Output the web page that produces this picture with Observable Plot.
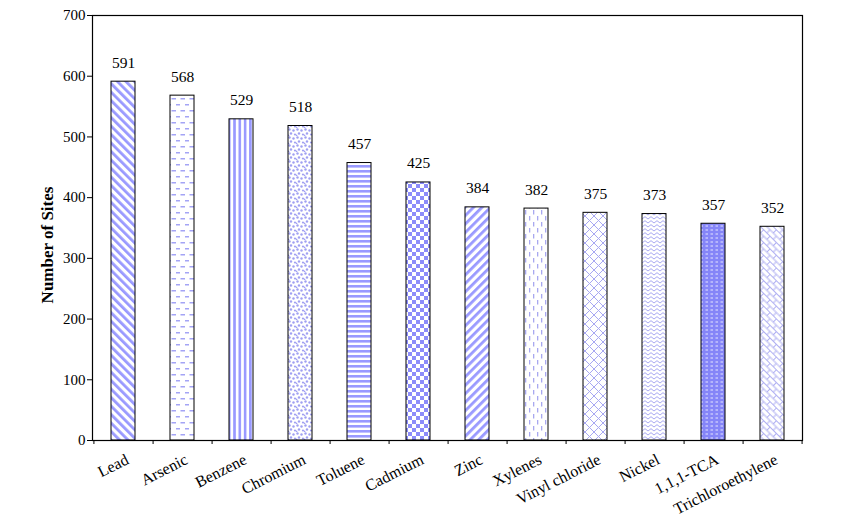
<!DOCTYPE html>
<html>
<head>
<meta charset="utf-8">
<script src="https://cdn.jsdelivr.net/npm/d3@7"></script>
<script src="https://cdn.jsdelivr.net/npm/@observablehq/plot@0.6"></script>
<style>
  html, body { margin: 0; padding: 0; background: #fff; }
</style>
</head>
<body>
<div id="chart"></div>
<script>
const categories = ["Lead", "Arsenic", "Benzene", "Chromium", "Toluene", "Cadmium",
  "Zinc", "Xylenes", "Vinyl chloride", "Nickel", "1,1,1-TCA", "Trichloroethylene"];
const sites = [591, 568, 529, 518, 457, 425, 384, 382, 375, 373, 357, 352];
const yTicks = [0, 100, 200, 300, 400, 500, 600, 700];
const patternIds = ["lead", "arsenic", "benzene", "chromium", "toluene", "cadmium",
  "zinc", "xylenes", "vinyl", "nickel", "tca", "tce"];

const data = categories.map((c, i) => ({category: c, value: sites[i], fill: `url(#pat-${patternIds[i]})`}));

const W = 853, H = 527;
const mL = 92, mR = 51, mT = 15, mB = 87;
const step = (W - mL - mR) / categories.length;
const blue = "#9999ff";

function defs() {
  const ns = "http://www.w3.org/2000/svg";
  const g = document.createElementNS(ns, "defs");
  const P = (id, w, h, inner, tf) =>
    `<pattern id="pat-${id}" patternUnits="userSpaceOnUse" width="${w}" height="${h}"${tf ? ` patternTransform="${tf}"` : ""}><rect width="${w}" height="${h}" fill="#fff"/>${inner}</pattern>`;
  g.innerHTML = [
    P("lead", 6, 6, `<rect x="0" y="0" width="2.8" height="6" fill="${blue}"/>`, "rotate(-45)"),
    P("arsenic", 9, 12, `<rect x="0.5" y="2" width="4.5" height="1.5" fill="#a4a4f5"/><rect x="5" y="8" width="4.5" height="1.5" fill="#a4a4f5"/>`),
    P("benzene", 5.3, 5, `<rect x="0" y="0" width="2.6" height="5" fill="${blue}"/>`),
    P("chromium", 8, 8, `<circle cx="1.5" cy="1.5" r="1.2" fill="#a0a0f2"/><circle cx="5.5" cy="2.5" r="1.2" fill="#a0a0f2"/><circle cx="3" cy="5.5" r="1.2" fill="#a0a0f2"/><circle cx="7" cy="6.5" r="1.1" fill="#a0a0f2"/><circle cx="0.5" cy="7.5" r="0.9" fill="#a0a0f2"/>`),
    P("toluene", 5, 5, `<rect x="0" y="0" width="5" height="2.6" fill="${blue}"/>`),
    P("cadmium", 8, 8, `<rect x="0" y="0" width="4" height="4" fill="#8c8cfa"/><rect x="4" y="4" width="4" height="4" fill="#8c8cfa"/>`),
    P("zinc", 6, 6, `<rect x="0" y="0" width="2.8" height="6" fill="${blue}"/>`, "rotate(45)"),
    P("xylenes", 8, 12, `<rect x="1" y="0" width="1.3" height="4.5" fill="#a8a8f0"/><rect x="5" y="6" width="1.3" height="4.5" fill="#a8a8f0"/>`),
    P("vinyl", 9, 9, `<path d="M0,0L9,9M9,0L0,9" stroke="#a8a8f2" stroke-width="1" fill="none"/>`),
    P("nickel", 6, 4, `<path d="M0,3L3,0.7L6,3" stroke="#a8a8f2" stroke-width="1" fill="none"/>`),
    P("tca", 5, 4, `<rect width="5" height="4" fill="#8585f8"/><rect x="0.5" y="1.5" width="2.5" height="1" fill="#e6e6ff"/>`),
    P("tce", 9, 9, `<path d="M0,0.5H9M0,5H9M0.5,0V5M5,5V9" stroke="#b0b0f2" stroke-width="1" fill="none"/>`, "rotate(45)")
  ].join("");
  return g;
}

const chart = Plot.plot({
  width: W,
  height: H,
  marginLeft: mL,
  marginRight: mR,
  marginTop: mT,
  marginBottom: mB,
  style: {fontFamily: "'Liberation Serif', 'Times New Roman', serif", fontSize: "15px", color: "#000", background: "#fff"},
  x: {domain: categories, paddingInner: 0.595, paddingOuter: 0.2975, label: null},
  y: {domain: [0, 700], label: null},
  color: {type: "identity"},
  marks: [
    defs,
    Plot.barY(data, {x: "category", y: "value", fill: "fill", stroke: "#000", strokeWidth: 1}),
    Plot.text(data, {x: "category", y: "value", text: d => String(d.value), dy: -19, fontSize: 15.5}),
    Plot.frame({stroke: "#000", strokeWidth: 1.2}),
    Plot.axisY({ticks: yTicks, tickSize: 5, tickPadding: 2, tickFormat: d => String(d), label: null, fontSize: 15}),
    Plot.axisX({ticks: categories, tickSize: 4, text: null, dx: step / 2, label: null}),
    Plot.axisX({ticks: [categories[0]], tickSize: 4, text: null, dx: -step / 2, label: null}),
    Plot.axisX({ticks: categories, tickSize: 0, tickRotate: -27, tickPadding: 18, dx: 4, label: null, fontSize: 16}),
    Plot.text(["Number of Sites"], {frameAnchor: "left", textAnchor: "middle", text: d => d, rotate: -90, dx: -45, dy: 17, fontWeight: "bold", fontSize: 17})
  ]
});
document.getElementById("chart").appendChild(chart);
</script>
</body>
</html>
